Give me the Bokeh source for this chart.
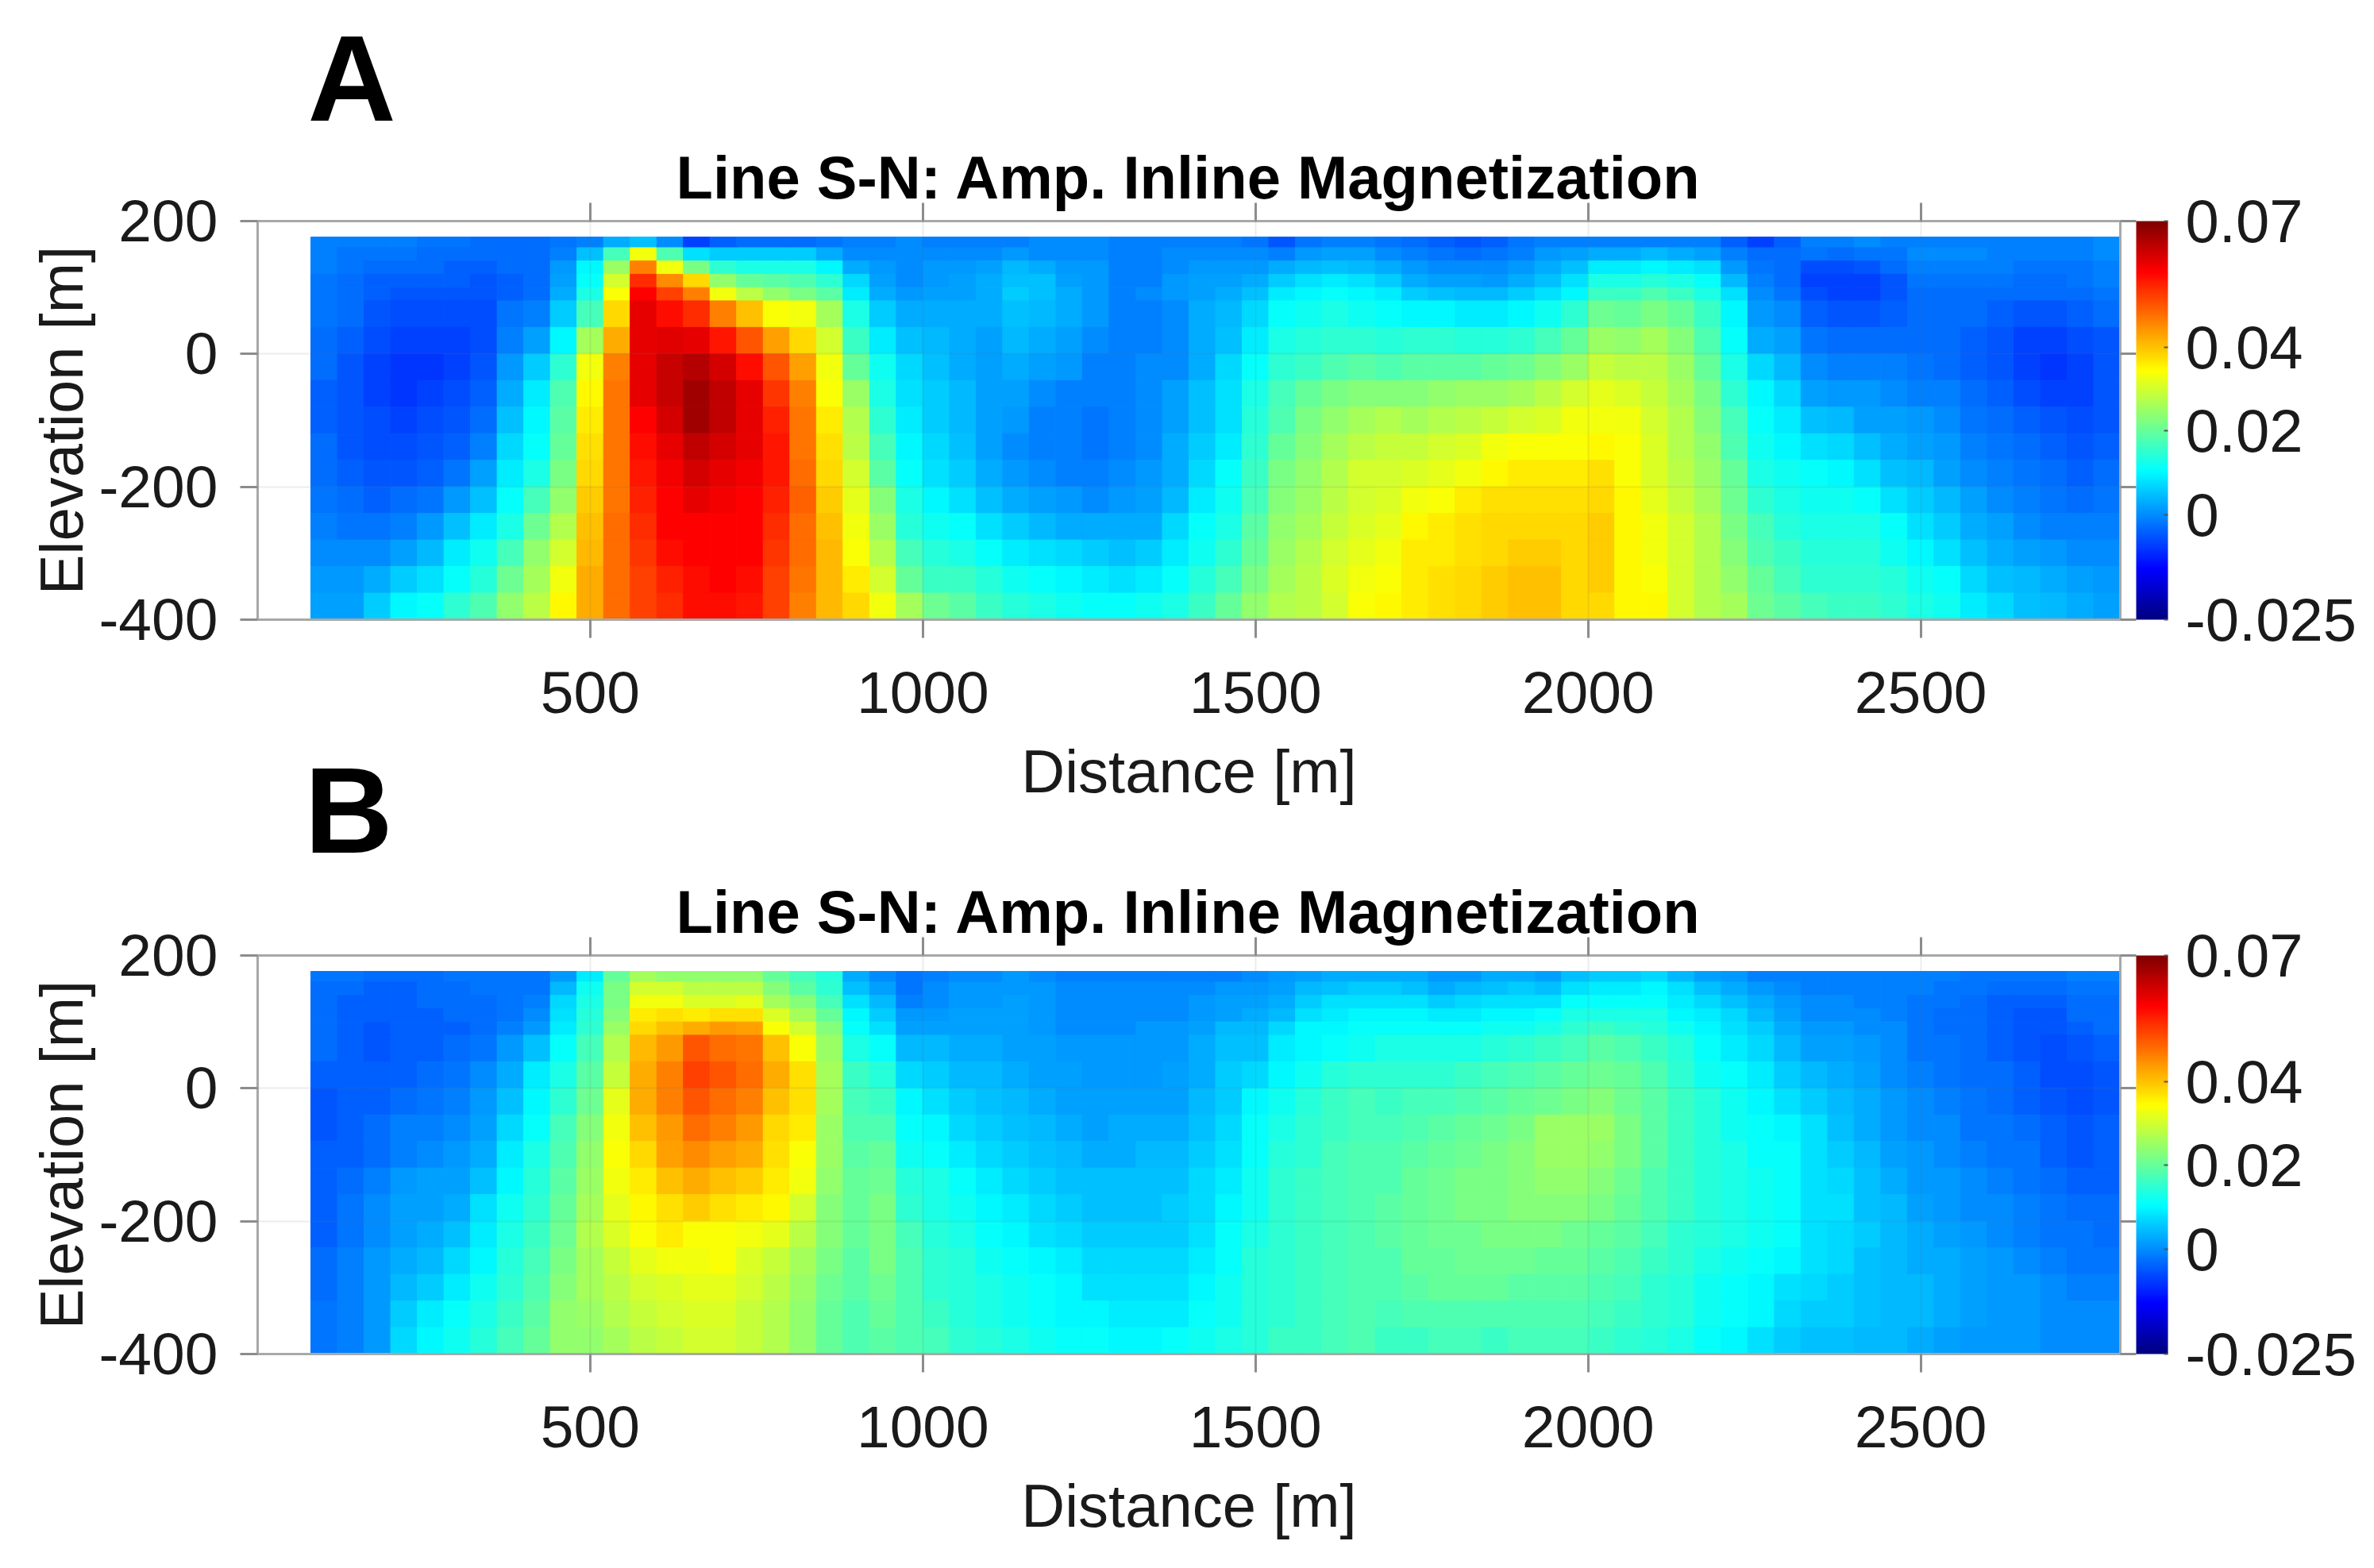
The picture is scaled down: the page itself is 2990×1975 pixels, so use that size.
from bokeh.plotting import figure
from bokeh.layouts import column
from bokeh.models import (ColorBar, ColumnDataSource, FixedTicker, LinearAxis,
                          LinearColorMapper, Range1d, Title)
from bokeh.embed import file_html
from bokeh.resources import INLINE

TITLE = "Line S-N: Amp. Inline Magnetization"
XLABEL = "Distance [m]"
YLABEL = "Elevation [m]"
X_TICKS = [500, 1000, 1500, 2000, 2500]
Y_TICKS = [-400, -200, 0, 200]
Y_LABELS = {-400: "-400", -200: "-200", 0: "0", 200: "200"}
CB_TICKS = [-0.025, 0, 0.02, 0.04, 0.07]
CB_LABELS = {-0.025: "-0.025", 0: "0", 0.02: "0.02", 0.04: "0.04", 0.07: "0.07"}
CB_LOW, CB_HIGH = -0.025, 0.07

DIST_EDGES = list(range(80, 2801, 40))
ELEV_EDGES = [176, 160, 140, 120, 100, 80, 40, 0, -40, -80, -120, -160, -200, -240, -280, -320, -360, -400]

# values in units of 0.001, one list per distance column, top row first
AMP_A = [
[-1,-1,-1,-2,-2,-2,-3,-3,-4,-4,-3,-3,-2,-1,0,1,2],
[-1,-2,-2,-3,-3,-3,-4,-5,-5,-5,-5,-4,-3,-2,0,1,2],
[-1,-2,-3,-4,-4,-5,-6,-7,-7,-6,-6,-5,-4,-2,0,3,6],
[-1,-2,-3,-4,-5,-6,-7,-8,-8,-7,-6,-5,-3,-1,2,6,10],
[-2,-3,-3,-4,-5,-6,-7,-8,-7,-6,-5,-4,-2,1,4,8,11],
[-2,-3,-4,-4,-5,-6,-7,-7,-6,-5,-4,-2,1,5,9,11,15],
[-3,-3,-4,-5,-5,-6,-6,-5,-4,-3,-1,2,5,9,12,14,18],
[-3,-3,-3,-4,-4,-2,-1,1,3,5,7,9,11,13,17,21,24],
[-3,-3,-3,-3,-3,-1,2,6,9,10,11,13,17,21,24,26,28],
[-2,-1,1,2,3,6,10,15,18,19,20,22,24,27,30,33,35],
[-1,5,10,11,13,17,26,33,35,36,37,38,39,40,41,42,42],
[3,17,25,30,34,38,42,46,47,47,47,47,47,48,48,48,48],
[5,33,46,54,58,60,60,60,60,58,57,56,55,54,53,52,52],
[0,18,33,45,52,57,61,63,63,62,60,59,58,58,57,55,54],
[-7,8,22,38,46,54,60,65,67,67,64,62,60,58,58,57,57],
[-4,6,15,24,33,46,56,62,64,64,62,60,59,58,58,58,57],
[-3,6,13,20,28,40,50,57,60,60,60,59,58,58,58,57,56],
[-3,6,13,19,24,34,43,50,53,55,56,56,55,54,53,52,52],
[-3,6,13,18,22,33,38,43,46,47,47,48,49,48,48,47,46],
[-2,3,10,15,19,26,30,33,34,36,37,38,39,40,41,41,41],
[-1,0,3,7,9,13,16,20,25,27,28,30,32,33,34,36,38],
[-1,0,1,2,3,6,9,12,13,15,17,19,23,25,27,30,33],
[0,0,0,0,1,3,5,7,8,9,10,11,13,14,17,20,26],
[-1,0,1,1,2,3,4,5,6,6,7,8,10,12,14,16,21],
[-1,0,1,2,2,3,3,3,4,4,5,6,8,11,13,16,19],
[-1,0,2,3,3,3,2,2,2,2,2,3,5,8,11,14,16],
[-1,1,4,5,6,5,4,3,2,1,0,1,3,6,9,12,14],
[0,0,3,5,5,4,3,2,0,-1,-1,0,2,4,8,11,13],
[0,0,1,2,3,3,2,1,-1,-1,-1,-1,1,3,7,10,12],
[0,0,1,1,1,1,0,-1,-1,-2,-2,-1,0,3,6,9,11],
[-1,-1,-1,-1,-1,-1,-1,-1,-1,-1,-1,0,1,3,5,8,11],
[-1,-1,-1,-1,0,-1,-1,0,0,0,0,1,2,3,6,9,12],
[-1,0,0,1,1,0,0,0,2,2,3,3,4,7,9,11,13],
[-1,0,1,2,2,3,3,3,5,5,6,7,9,11,12,14,16],
[-1,0,1,2,3,4,5,7,8,8,9,11,12,13,15,17,20],
[-2,0,1,3,5,7,9,11,13,14,15,16,17,19,20,22,24],
[-5,-1,3,6,9,11,13,15,17,18,20,22,23,24,25,26,27],
[-2,1,4,8,10,12,14,16,20,22,23,24,25,26,27,28,28],
[-1,2,5,9,11,13,15,18,22,24,26,27,28,29,30,31,30],
[-1,2,4,8,10,12,15,19,23,26,28,30,30,31,32,33,34],
[-2,0,3,6,9,11,14,18,23,27,29,30,31,32,33,34,35],
[-3,-1,1,3,6,10,15,19,23,26,29,31,33,35,36,36,36],
[-4,-2,0,2,5,10,15,19,24,27,30,32,34,36,36,37,37],
[-5,-3,0,2,4,9,14,19,25,28,31,33,36,37,37,38,38],
[-4,-2,0,1,4,9,14,20,25,29,33,35,37,38,38,39,39],
[-2,-1,1,3,6,10,15,21,26,30,34,36,37,38,39,40,40],
[-1,1,3,5,8,12,17,23,28,31,34,36,37,38,39,40,40],
[-1,2,5,8,10,15,20,25,30,33,34,36,37,38,38,38,38],
[-1,3,9,13,16,21,25,29,32,33,35,37,38,39,39,39,38],
[-1,3,9,13,16,20,24,28,31,33,34,34,35,35,35,35,35],
[-1,4,10,14,18,22,26,28,29,30,31,31,32,33,33,34,35],
[-1,3,9,13,16,20,23,25,26,27,27,28,29,30,30,30,30],
[-1,2,8,11,13,16,18,20,22,23,24,25,26,27,27,27,27],
[-4,-1,1,4,8,10,11,13,15,17,18,20,21,22,23,24,26],
[-7,-3,-2,-1,0,1,3,7,10,11,12,13,15,17,18,20,21],
[-4,-3,-3,-3,-2,0,2,4,7,9,10,12,13,14,16,17,19],
[-1,-2,-6,-7,-6,-4,-2,0,2,5,8,11,12,13,14,15,17],
[-1,-3,-6,-7,-7,-5,-3,-1,1,4,7,10,12,13,14,15,16],
[0,-2,-5,-7,-7,-5,-3,-1,1,2,5,8,11,13,14,15,16],
[-1,-2,-3,-5,-5,-4,-3,-1,0,2,3,5,8,11,12,14,15],
[-1,0,-1,-2,-3,-3,-3,-2,-1,1,2,4,6,8,10,12,13],
[-1,0,-1,-2,-3,-3,-3,-3,-1,0,1,2,4,6,8,11,12],
[-1,0,-1,-2,-3,-3,-4,-4,-3,-2,-1,0,2,3,5,7,9],
[-1,-1,-1,-2,-3,-4,-5,-5,-4,-3,-2,-1,0,2,3,5,7],
[-1,-1,-2,-3,-3,-5,-7,-7,-6,-4,-3,-2,-1,0,2,4,5],
[-1,-1,-2,-3,-3,-5,-7,-8,-7,-5,-4,-3,-2,-1,1,3,4],
[-1,-1,-2,-2,-3,-4,-6,-7,-7,-6,-5,-4,-3,-1,0,2,3],
[0,0,-1,-1,-2,-3,-5,-5,-5,-5,-4,-3,-2,-1,0,1,2],
]

AMP_B = [
[-2,-3,-3,-3,-3,-3,-4,-5,-5,-4,-4,-4,-4,-3,-3,-2,-2],
[-2,-3,-4,-4,-4,-4,-4,-4,-4,-4,-3,-2,-2,-1,-1,-1,-1],
[-3,-4,-4,-4,-5,-5,-4,-4,-3,-3,-1,0,0,1,1,1,1],
[-3,-4,-4,-4,-4,-4,-4,-3,-1,-1,1,2,2,3,4,6,7],
[-3,-3,-3,-4,-4,-4,-3,-2,-1,0,2,2,3,4,6,9,10],
[-2,-3,-3,-3,-4,-3,-2,-1,0,1,2,3,5,7,9,11,12],
[-2,-2,-3,-3,-3,-2,0,1,2,3,5,8,9,10,12,13,14],
[-2,-2,-2,-2,-1,1,3,5,7,9,10,12,13,14,15,16,17],
[-2,-2,-1,0,1,5,9,10,11,13,14,15,16,17,18,19,20],
[1,4,7,8,9,11,13,15,17,18,19,20,21,22,23,24,24],
[9,12,13,14,15,17,19,21,23,24,25,26,27,26,26,25,24],
[20,22,22,23,25,27,29,32,33,34,33,32,31,29,28,27,26],
[26,30,33,36,38,41,42,42,40,38,36,35,34,32,30,29,28],
[24,30,33,37,40,44,46,46,44,43,40,37,36,33,31,30,29],
[24,28,31,36,42,50,52,50,48,45,42,39,34,33,32,31,30],
[24,28,31,37,44,48,50,48,46,43,40,37,34,34,32,31,30],
[24,28,32,37,43,47,48,46,44,42,39,36,33,31,30,29,29],
[20,23,26,31,34,40,42,40,38,37,36,35,32,29,28,27,27],
[17,19,23,26,30,34,37,37,36,34,33,30,28,26,25,24,24],
[14,15,17,20,23,25,26,26,25,25,24,23,23,22,21,20,20],
[3,5,8,10,11,13,16,17,18,19,20,20,20,19,19,18,18],
[0,2,4,6,8,11,14,16,18,20,21,22,22,22,21,20,19],
[-2,-2,-1,1,2,4,7,10,11,12,14,15,17,18,18,18,18],
[-1,0,0,1,2,4,6,8,10,11,13,13,14,15,15,16,17],
[0,1,1,2,2,3,4,6,7,9,11,12,13,14,14,14,15],
[0,1,1,2,2,3,4,5,6,7,9,10,11,12,13,13,14],
[1,1,2,2,2,2,3,4,5,6,7,9,10,11,12,12,13],
[0,1,1,1,1,2,2,3,4,5,6,7,8,10,11,11,12],
[-1,0,0,0,0,1,2,2,3,4,5,6,7,9,10,10,11],
[-1,0,0,0,0,1,1,2,2,3,5,5,6,7,8,10,11],
[-1,0,0,0,0,1,1,2,3,3,5,5,6,7,8,9,10],
[-1,0,0,0,1,1,1,2,3,4,5,5,6,7,8,9,10],
[-1,0,0,0,1,1,2,2,3,4,5,6,6,7,8,9,11],
[-1,0,1,1,2,3,3,4,5,6,7,7,8,9,10,11,12],
[-1,1,2,2,4,5,6,6,7,8,9,10,11,11,12,12,13],
[0,1,2,3,4,5,7,10,11,11,12,12,13,14,14,14,14],
[1,2,3,4,7,9,10,12,13,14,15,15,15,15,15,15,16],
[2,4,6,8,10,10,12,14,15,15,16,16,16,16,16,16,16],
[3,5,8,9,10,11,14,16,16,17,17,17,17,17,17,17,17],
[3,6,8,10,11,12,15,17,17,18,18,18,18,18,18,18,18],
[3,6,8,10,11,13,15,16,17,18,18,19,19,18,18,17,16],
[3,5,8,10,11,13,15,17,18,19,20,20,20,20,19,18,16],
[1,3,6,9,11,13,15,17,19,20,21,21,21,20,20,18,17],
[1,4,7,9,11,13,16,18,20,21,22,22,21,21,20,18,17],
[3,5,8,10,12,14,17,19,21,22,22,22,22,21,20,18,16],
[3,6,8,10,12,15,18,20,22,23,23,23,22,21,19,18,17],
[2,5,8,11,13,16,19,21,25,25,24,23,22,20,19,18,17],
[5,8,11,13,15,17,20,22,25,25,24,23,21,20,19,18,17],
[6,9,11,13,16,19,21,23,25,24,23,22,20,19,18,17,16],
[6,9,11,13,15,18,20,21,22,22,21,20,19,18,17,16,15],
[7,10,11,13,14,16,18,19,19,19,18,18,17,16,15,15,14],
[4,8,9,10,12,14,15,16,16,16,16,16,15,15,14,14,13],
[2,5,7,9,10,11,12,14,14,14,14,14,14,13,12,12,11],
[1,3,5,7,8,9,11,12,12,13,13,13,13,12,11,11,10],
[-1,1,3,4,6,7,9,10,11,11,12,12,12,11,10,10,8],
[-1,0,1,2,3,4,6,8,10,11,11,11,11,10,8,7,6],
[-1,-1,0,0,1,2,4,6,8,8,8,8,8,8,7,6,5],
[-1,-1,0,0,1,2,3,4,5,6,7,8,7,7,6,6,5],
[-1,-1,-1,0,0,1,2,3,3,4,5,5,6,5,5,5,4],
[-1,-1,-1,-1,0,0,0,1,1,2,3,4,4,4,4,4,4],
[-1,-1,-2,-2,-2,-2,-1,0,0,1,1,2,3,3,4,4,3],
[-1,-2,-2,-3,-3,-2,-2,-1,0,0,1,1,2,3,3,3,2],
[-2,-2,-3,-3,-3,-3,-3,-2,-2,-1,0,0,1,2,2,2,1],
[-2,-3,-4,-4,-4,-4,-3,-3,-2,-2,-1,0,0,1,1,1,1],
[-2,-3,-4,-5,-5,-5,-4,-4,-3,-2,-2,-1,-1,0,1,1,1],
[-2,-3,-4,-5,-5,-6,-6,-5,-4,-4,-3,-2,-2,-1,0,0,0],
[-1,-2,-3,-3,-4,-5,-6,-6,-5,-5,-4,-3,-2,-2,-1,0,0],
[-1,-2,-3,-3,-3,-4,-5,-5,-4,-4,-4,-3,-3,-2,-1,0,0],
]

FONT = "Liberation Sans"
GREY = "#a8a8a8"
TICK = "#8c8c8c"
TEXT = "#1a1a1a"


def jet_hex(t):
    def ch(c):
        return max(0.0, min(1.0, 1.5 - abs(4 * t - c)))
    r, g, b = ch(3), ch(2), ch(1)
    return "#%02x%02x%02x" % (round(r * 255), round(g * 255), round(b * 255))


JET = [jet_hex(i / 255) for i in range(256)]


def tick_only_axis(ticks, out):
    return LinearAxis(ticker=FixedTicker(ticks=ticks), major_label_overrides={t: "" for t in ticks},
                      major_label_standoff=0, axis_line_color=GREY, axis_line_width=3,
                      major_tick_line_color=TICK, major_tick_line_width=3,
                      major_tick_in=0, major_tick_out=out, minor_tick_line_color=None)


def panel(amps, letter, letter_offset, letter_standoff, top, bottom, margin):
    mapper = LinearColorMapper(palette=JET, low=CB_LOW, high=CB_HIGH)
    p = figure(frame_width=2346, frame_height=502, output_backend="svg", toolbar_location=None,
               x_range=Range1d(0, 2800), y_range=Range1d(-400, 200),
               min_border_left=324, min_border_right=300, min_border_top=top, min_border_bottom=bottom,
               background_fill_color="white", border_fill_color=None,
               outline_line_color=GREY, outline_line_width=3, margin=margin)
    left, right, hi, lo, vals = [], [], [], [], []
    for i, col in enumerate(amps):
        for j, v in enumerate(col):
            left.append(DIST_EDGES[i])
            right.append(DIST_EDGES[i + 1])
            hi.append(ELEV_EDGES[j])
            lo.append(ELEV_EDGES[j + 1])
            vals.append(v / 1000)
    src = ColumnDataSource(dict(left=left, right=right, top=hi, bottom=lo, v=vals))
    fill = {"field": "v", "transform": mapper}
    p.quad(left="left", right="right", top="top", bottom="bottom", source=src,
           fill_color=fill, line_color=fill, line_width=1)

    for ax, ticks in ((p.xaxis[0], X_TICKS), (p.yaxis[0], Y_TICKS)):
        ax.ticker = FixedTicker(ticks=ticks)
        ax.axis_line_color = GREY
        ax.axis_line_width = 3
        ax.major_tick_line_color = TICK
        ax.major_tick_line_width = 3
        ax.major_tick_in = 0
        ax.minor_tick_line_color = None
        ax.major_label_text_font = FONT
        ax.major_label_text_font_size = "75px"
        ax.major_label_text_color = TEXT
        ax.axis_label_text_font = FONT
        ax.axis_label_text_font_size = "76px"
        ax.axis_label_text_font_style = "normal"
        ax.axis_label_text_color = TEXT
    p.xaxis[0].major_tick_out = 23
    p.yaxis[0].major_tick_out = 22
    p.yaxis[0].major_label_overrides = Y_LABELS
    p.xaxis[0].major_label_standoff = 43
    p.yaxis[0].major_label_standoff = 28
    p.xaxis[0].axis_label = XLABEL
    p.yaxis[0].axis_label = YLABEL
    p.xaxis[0].axis_label_standoff = 28
    p.yaxis[0].axis_label_standoff = 1

    p.add_layout(tick_only_axis(X_TICKS, 23), "above")
    p.add_layout(tick_only_axis(Y_TICKS, 20), "right")

    for g, ticks in ((p.xgrid[0], X_TICKS), (p.ygrid[0], Y_TICKS)):
        g.ticker = FixedTicker(ticks=ticks)
        g.grid_line_color = "#606060"
        g.grid_line_alpha = 0.12
        g.grid_line_width = 2
        g.level = "annotation"

    cb = ColorBar(color_mapper=mapper, ticker=FixedTicker(ticks=CB_TICKS), major_label_overrides=CB_LABELS,
                  width=40, height=502, padding=0, margin=0, location=(0, 0),
                  major_label_text_font=FONT, major_label_text_font_size="76px", major_label_text_color=TEXT,
                  label_standoff=22, major_tick_line_color="#555555", major_tick_line_width=2,
                  major_tick_in=5, major_tick_out=0, minor_tick_line_color=None,
                  bar_line_color=None, border_line_color=None, background_fill_color=None)
    p.add_layout(cb, "right")

    p.add_layout(Title(text=TITLE, align="center", text_font=FONT, text_font_size="76px", text_font_style="bold",
                       text_color="#000000", standoff=-21), "above")
    p.add_layout(Title(text=letter, align="left", offset=letter_offset, text_font=FONT, text_font_size="154px",
                       text_font_style="bold", text_color="#000000", standoff=letter_standoff), "above")
    return p


pa = panel(AMP_A, "A", 63, 9, 278, 240, 0)
pb = panel(AMP_B, "B", 59, 15, 279, 230, (-96, 0, 0, 0))
page = column(pa, pb, spacing=0)
open("out.html", "w").write(file_html(page, INLINE))
